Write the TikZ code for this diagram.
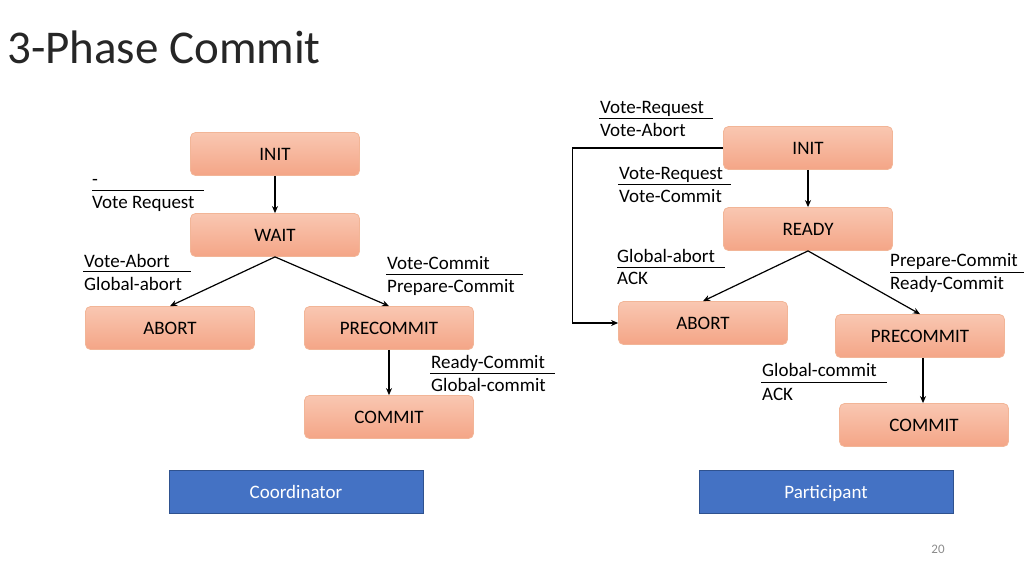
\documentclass[tikz,border=0pt]{standalone}
\usepackage{fontspec}
\setmainfont{Carlito}
\usetikzlibrary{arrows.meta}
\definecolor{boxtop}{HTML}{F9C7B1}
\definecolor{boxbot}{HTML}{F4A586}
\definecolor{boxline}{HTML}{F2B597}
\definecolor{bluefill}{HTML}{4472C4}
\definecolor{blueline}{HTML}{2F528F}
\definecolor{numgray}{HTML}{8C8C8C}
\tikzset{
  state/.style={rectangle, rounded corners=5pt, draw=boxline, line width=0.8pt,
    top color=boxtop, bottom color=boxbot, minimum width=169pt, minimum height=43pt,
    inner sep=0pt, font=\fontsize{19}{22}\selectfont},
  role/.style={rectangle, draw=blueline, line width=0.8pt, fill=bluefill, text=white,
    minimum width=254pt, minimum height=43pt, inner sep=0pt, text height=15pt, text depth=2pt,
    font=\fontsize{19}{22}\selectfont},
  arr/.style={line width=1.2pt, -{Stealth[length=7pt,width=6pt]}},
  lbl/.style={anchor=base west, inner sep=0pt, font=\fontsize{19}{22}\selectfont},
  frac/.style={line width=1pt}
}
\begin{document}
\begin{tikzpicture}[x=1pt,y=-1pt]
\useasboundingbox (0,0) rectangle (1024,576);
\node[anchor=west, inner sep=0pt, font=\fontsize{47}{54}\selectfont, text=black!85] (title) at (7,47) {3-Phase Commit};

% Coordinator
\node[state] (cinit) at (275,154) {INIT};
\node[state] (cwait) at (275,235) {WAIT};
\node[state] (cabort) at (170,328) {ABORT};
\node[state] (cprec) at (389,328) {PRECOMMIT};
\node[state] (ccommit) at (389,417) {COMMIT};
\draw[arr] (cinit.south) -- (cwait.north);
\draw[arr] (cwait.south) -- (cabort.north);
\draw[arr] (cwait.south) -- (cprec.north);
\draw[arr] (cprec.south) -- (ccommit.north);

% Participant
\node[state] (pinit) at (808,148) {INIT};
\node[state] (pready) at (808,229) {READY};
\node[state] (pabort) at (703,323) {ABORT};
\node[state] (pprec) at (920,336) {PRECOMMIT};
\node[state] (pcommit) at (924,425) {COMMIT};
\draw[arr] (pinit.south) -- (pready.north);
\draw[arr] (pready.south) -- (pabort.north);
\draw[arr] (pready.south) -- (pprec.north);
\draw[arr] (pprec.south -| pcommit.north) ++(-1,0) coordinate (pps) -- (pps |- pcommit.north);
\draw[arr] (pinit.west) -- ++(-151,0) |- (pabort.west);

% Coordinator labels
\node[lbl] (l1a) at (92,185) {-};
\draw[frac] (92,190) -- (204,190);
\node[lbl] (l1b) at (92,208) {Vote Request};

\node[lbl] (l2a) at (84,267) {Vote-Abort};
\draw[frac] (83,271) -- (191,271);
\node[lbl] (l2b) at (84,290) {Global-abort};

\node[lbl] (l3a) at (387,269) {Vote-Commit};
\draw[frac] (386,274) -- (523,274);
\node[lbl] (l3b) at (387,292) {Prepare-Commit};

\node[lbl] (l4a) at (431,368) {Ready-Commit};
\draw[frac] (430,373) -- (555,373);
\node[lbl] (l4b) at (431,391) {Global-commit};

% Participant labels
\node[lbl] (l5a) at (600,113) {Vote-Request};
\draw[frac] (599,118) -- (713,118);
\node[lbl] (l5b) at (600,136) {Vote-Abort};

\node[lbl] (l6a) at (619,179) {Vote-Request};
\draw[frac] (618,184) -- (731,184);
\node[lbl] (l6b) at (619,202) {Vote-Commit};

\node[lbl] (l7a) at (617,262) {Global-abort};
\draw[frac] (617,267) -- (725,267);
\node[lbl] (l7b) at (617,284) {ACK};

\node[lbl] (l8a) at (890,266) {Prepare-Commit};
\draw[frac] (890,272) -- (1024,272);
\node[lbl] (l8b) at (890,289) {Ready-Commit};

\node[lbl] (l9a) at (762,376) {Global-commit};
\draw[frac] (761,382) -- (887,382);
\node[lbl] (l9b) at (762,400) {ACK};

% Roles
\node[role] (coord) at (296,491.5) {Coordinator};
\node[role] (part) at (826,491.5) {Participant};

\node[inner sep=0pt, text=numgray, font=\fontsize{13}{15}\selectfont] (pagenum) at (938,549) {20};
\end{tikzpicture}
\end{document}
